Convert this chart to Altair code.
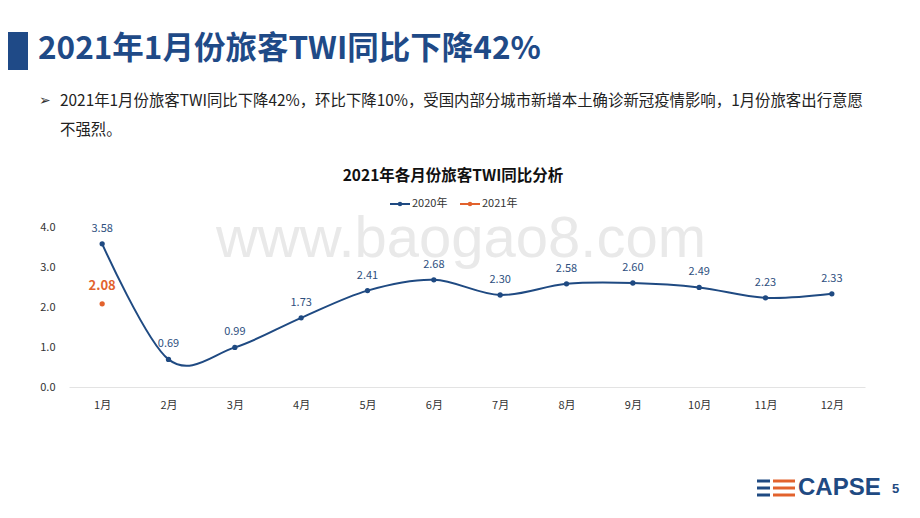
import altair as alt
import pandas as pd

months = ["1月", "2月", "3月", "4月", "5月", "6月", "7月", "8月", "9月", "10月", "11月", "12月"]
twi_2020 = [3.58, 0.69, 0.99, 1.73, 2.41, 2.68, 2.30, 2.58, 2.60, 2.49, 2.23, 2.33]
months_2021 = ["1月"]
twi_2021 = [2.08]
series = ["2020年", "2021年"]
colors = ["#1F4A82", "#E2622D"]
y_ticks = [0, 1, 2, 3, 4]

title_text = "2021年1月份旅客TWI同比下降42%"
bullet_line1 = "2021年1月份旅客TWI同比下降42%，环比下降10%，受国内部分城市新增本土确诊新冠疫情影响，1月份旅客出行意愿"
bullet_line2 = "不强烈。"
chart_title = "2021年各月份旅客TWI同比分析"

FONT = "Noto Sans CJK SC"
BLUE = "#1F4A82"
LABEL_BLUE = "#2E4F7E"
ORANGE = "#E2622D"

df20 = pd.DataFrame({"month": months, "value": twi_2020, "series": series[0]})
df21 = pd.DataFrame({"month": months_2021, "value": twi_2021, "series": series[1]})
one = pd.DataFrame({"k": [0]})

x_enc = alt.X(
    "month:N", sort=months,
    scale=alt.Scale(type="point", padding=0.5, domain=months),
    axis=alt.Axis(title=None, labelAngle=0, ticks=False, grid=False,
                  domainColor="#E3E3E3", domainWidth=1, labelPadding=12,
                  labelFontSize=11, labelColor="#333333", labelFont=FONT),
)
y_enc = alt.Y(
    "value:Q",
    scale=alt.Scale(domain=[0, 4], nice=False, zero=True),
    axis=alt.Axis(title=None, values=y_ticks, format=".1f", ticks=False, domain=False,
                  grid=False, labelPadding=14, labelFontSize=11, labelColor="#333333",
                  labelFont=FONT),
)
color_enc = alt.Color("series:N", scale=alt.Scale(domain=series, range=colors), legend=None)


def deco_text(text, x, y, size, color, weight="normal", align="left", font=FONT, baseline="middle"):
    return alt.Chart(one).mark_text(
        text=text, fontSize=size, color=color, fontWeight=weight, align=align,
        baseline=baseline, font=font
    ).encode(x=alt.value(x), y=alt.value(y))


def deco_rule(x1, x2, y, color, width):
    return alt.Chart(one).mark_rule(color=color, strokeWidth=width).encode(
        x=alt.value(x1), x2=alt.value(x2), y=alt.value(y))


# page coords -> internal: x - 69, y - 227
watermark = deco_text("www.baogao8.com", 392, 13, 58, "#E9E9E9", font="Liberation Sans", align="center")

line20 = alt.Chart(df20).mark_line(interpolate="cardinal", strokeWidth=2).encode(
    x=x_enc, y=y_enc, color=color_enc)
pts20 = alt.Chart(df20).mark_point(filled=True, size=28, opacity=1).encode(
    x=x_enc, y=y_enc, color=color_enc)
lab20 = alt.Chart(df20).mark_text(dy=-15, fontSize=11, color=LABEL_BLUE, font=FONT).encode(
    x=x_enc, y=y_enc, text=alt.Text("value:Q", format=".2f"))
pts21 = alt.Chart(df21).mark_point(filled=True, size=28, opacity=1).encode(
    x=x_enc, y=y_enc, color=color_enc)
lab21 = alt.Chart(df21).mark_text(dy=-18, fontSize=13, fontWeight="bold", color=ORANGE, font=FONT).encode(
    x=x_enc, y=y_enc, text=alt.Text("value:Q", format=".2f"))

square = alt.Chart(one).mark_rect(color="#1F4A87").encode(
    x=alt.value(-69), x2=alt.value(-41), y=alt.value(-195), y2=alt.value(-157))
title = deco_text(title_text, -31, -177, 31.5, "#1F4A87", weight="bold")
arrow = deco_text("➢", -30, -126, 14, "#333333", font="DejaVu Sans")
b1 = deco_text(bullet_line1, -9, -126, 15.4, "#222222")
b2 = deco_text(bullet_line2, -9, -97, 15.4, "#222222")
ctitle = deco_text(chart_title, 384, -51, 15.5, "#111111", weight="bold", align="center")

leg_l1 = deco_rule(321, 341, -23, colors[0], 2)
leg_p1 = alt.Chart(one).mark_point(filled=True, size=20, color=colors[0], opacity=1).encode(
    x=alt.value(331), y=alt.value(-23))
leg_t1 = deco_text(series[0], 343, -23, 11, "#333333")
leg_l2 = deco_rule(391, 411, -23, colors[1], 2)
leg_p2 = alt.Chart(one).mark_point(filled=True, size=20, color=colors[1], opacity=1).encode(
    x=alt.value(401), y=alt.value(-23))
leg_t2 = deco_text(series[1], 413, -23, 11, "#333333")

# logo (bottom right)
logo_parts = []
for yy in [254, 261, 268]:
    logo_parts.append(deco_rule(688, 701, yy, "#1F4A82", 3))
    logo_parts.append(deco_rule(704, 726, yy, "#E2622D", 3))
logo_parts.append(deco_rule(704, 704, 252, "#E2622D", 3))
logo_text = deco_text("CAPSE", 729, 261, 24, "#1F4A82", weight="bold", font="Liberation Sans")
page_no = deco_text("5", 823, 262, 13, "#1F4A82", weight="bold", font="Liberation Sans")

chart = alt.layer(
    watermark, line20, pts20, lab20, pts21, lab21,
    square, title, arrow, b1, b2, ctitle,
    leg_l1, leg_p1, leg_t1, leg_l2, leg_p2, leg_t2,
    *logo_parts, logo_text, page_no,
).properties(
    width=796, height=160,
    padding={"left": 61, "top": 219, "right": 47, "bottom": 123},
    autosize=alt.AutoSizeParams(type="none"),
    background="white",
).configure_view(stroke=None)

chart.save("out.html", embed_options={"renderer": "svg", "actions": False})
